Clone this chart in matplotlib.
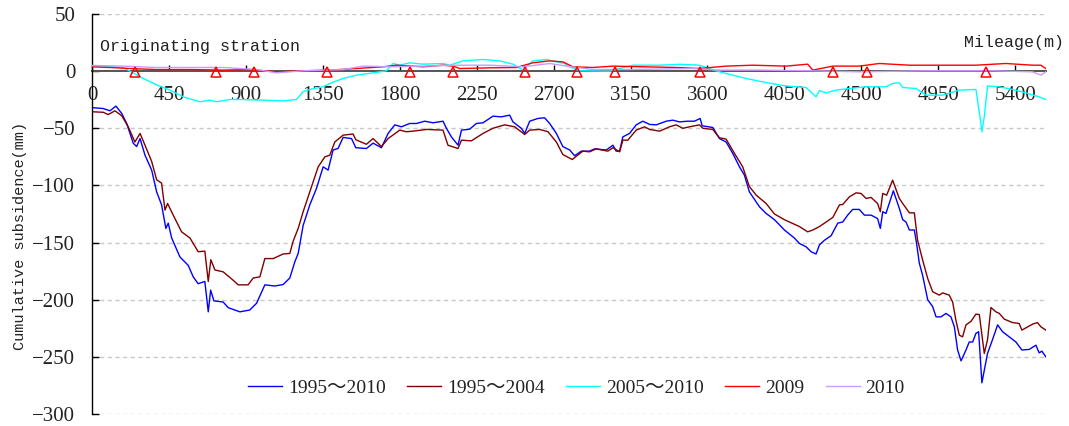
import matplotlib
matplotlib.use("Agg")
import matplotlib.pyplot as plt

plt.rcParams['font.family'] = ['Liberation Serif', 'Noto Sans CJK SC', 'DejaVu Sans']

# ---------------- data (mileage in m, cumulative subsidence in mm) ----------------
mile_9510 = [8, 66, 105, 140, 174, 203, 241, 261, 281, 310,
             349, 378, 407, 432, 446, 466, 514, 563, 592, 621,
             660, 680, 694, 713, 767, 797, 865, 923, 963, 1011,
             1069, 1118, 1157, 1186, 1206, 1235, 1274, 1313, 1352, 1381,
             1410, 1439, 1469, 1518, 1543, 1605, 1644, 1693, 1732, 1771,
             1810, 1858, 1898, 1946, 1995, 2053, 2073, 2102, 2141, 2161,
             2209, 2248, 2287, 2345, 2394, 2443, 2462, 2511, 2531, 2560,
             2608, 2647, 2677, 2716, 2754, 2794, 2823, 2862, 2910, 2940,
             3008, 3047, 3066, 3086, 3105, 3144, 3183, 3222, 3261, 3300,
             3359, 3397, 3436, 3485, 3524, 3557, 3569, 3631, 3670, 3709,
             3748, 3787, 3816, 3845, 3904, 3943, 3992, 4050, 4108, 4138,
             4177, 4206, 4235, 4255, 4284, 4323, 4362, 4391, 4420, 4449,
             4488, 4518, 4557, 4595, 4611, 4625, 4644, 4687, 4722, 4742,
             4761, 4781, 4810, 4823, 4839, 4858, 4888, 4917, 4937, 4966,
             4995, 5024, 5044, 5063, 5083, 5112, 5131, 5151, 5170, 5186,
             5200, 5205, 5219, 5238, 5267, 5297, 5326, 5365, 5404, 5439,
             5482, 5521, 5540, 5556, 5579]
sub_9510 = [-32, -32.7, -34.7, -30.6, -37, -45.8, -63, -66, -59, -73.5,
            -86.6, -105.6, -117, -137.6, -133, -146, -162.5, -170, -180, -186,
            -184, -210.6, -191.6, -201, -202, -207, -210.6, -209, -203, -187,
            -188, -186.7, -181, -167, -159.5, -135, -117, -102.6, -83.7, -86.6,
            -69, -67.7, -58, -59, -67, -67.7, -63, -67, -54.5, -47,
            -48.7, -45.8, -45.8, -43.8, -45.2, -43.8, -50, -57.5, -64.8, -51.6,
            -50.8, -45.8, -45.2, -39.4, -40, -38.5, -44.4, -50, -54.5, -43.8,
            -41.4, -40.8, -45.8, -54.5, -66, -69, -74, -70, -70, -68,
            -69, -64.8, -70, -70, -57.5, -54.5, -47, -43.8, -46.6, -47,
            -43.8, -42.9, -44.4, -43.8, -43.8, -41.4, -47.8, -49.3, -59, -62,
            -72, -83.7, -91, -105.6, -118.7, -124.5, -130, -139, -146, -150.8,
            -153.7, -158, -160, -152, -148, -144, -133, -132, -126, -121,
            -121, -126, -126, -129, -137.6, -123, -124.5, -104.7, -120, -130,
            -132, -139, -139, -150.8, -168, -178.5, -200, -206, -215, -215,
            -212, -215, -223.7, -244, -253.5, -244, -237, -237, -229.5, -228,
            -261.6, -272.7, -261.6, -247, -235, -222, -228, -232.5, -237, -244,
            -243.5, -239.8, -246.5, -245, -250]

mile_9504 = [8, 66, 95, 134, 174, 212, 251, 281, 310, 349,
             378, 407, 427, 442, 485, 524, 573, 621, 660, 680,
             695, 719, 767, 826, 855, 913, 943, 982, 1011, 1060,
             1118, 1157, 1176, 1206, 1235, 1274, 1323, 1362, 1391, 1420,
             1469, 1527, 1543, 1605, 1644, 1693, 1732, 1800, 1839, 1878,
             1956, 2053, 2082, 2141, 2161, 2219, 2287, 2345, 2414, 2472,
             2531, 2560, 2618, 2667, 2716, 2754, 2809, 2871, 2910, 2949,
             3017, 3047, 3086, 3105, 3134, 3183, 3232, 3261, 3320, 3378,
             3417, 3456, 3495, 3553, 3573, 3631, 3670, 3709, 3758, 3806,
             3845, 3885, 3943, 3992, 4050, 4108, 4138, 4186, 4216, 4255,
             4294, 4333, 4372, 4391, 4430, 4469, 4498, 4528, 4557, 4595,
             4611, 4625, 4648, 4683, 4722, 4742, 4781, 4810, 4829, 4858,
             4888, 4917, 4956, 4975, 5014, 5034, 5053, 5073, 5092, 5112,
             5141, 5170, 5190, 5219, 5238, 5258, 5287, 5307, 5336, 5384,
             5423, 5439, 5501, 5530, 5550, 5579]
sub_9504 = [-35.6, -36, -38, -34.7, -39, -48.7, -62, -54.5, -64.8, -79,
            -95, -98, -121.6, -115.8, -129, -140.6, -146, -158, -157.5, -184,
            -165, -174, -175.6, -183, -187, -187, -181, -180, -164, -164,
            -160, -159.5, -149, -137.6, -123, -105.6, -83.7, -75, -73.5, -62,
            -56, -55, -60, -64, -59, -66, -59, -51.6, -53, -52.5,
            -51, -51.6, -64.8, -67.7, -60.4, -61, -54.5, -50, -47, -48.7,
            -55.4, -51.6, -51, -53, -62, -73, -77.3, -70, -70.6, -68,
            -70, -67, -70.6, -60.4, -60.4, -51.6, -48.7, -51, -52.5, -48.7,
            -47, -50, -48.7, -47, -50, -51, -58.3, -59.5, -72, -83.7,
            -101, -108.5, -115.8, -125, -130, -134, -136, -140.6, -139, -136,
            -132, -128, -117, -116.7, -110, -106.5, -107, -111.4, -110.5, -115.8,
            -123, -107, -108.5, -95.4, -111.4, -115.8, -124, -124, -148, -165,
            -181.4, -193, -196, -194, -196, -202, -218, -231, -232.5, -222,
            -219, -212.6, -213, -247, -235, -206.8, -210.6, -212, -217, -220,
            -220.8, -226.6, -221.4, -220, -223.7, -226.6]

mile_0510 = [0, 105, 183, 241, 300, 378, 456, 534, 631, 690,
             729, 807, 865, 1001, 1118, 1196, 1235, 1274, 1352, 1391,
             1469, 1547, 1644, 1722, 1761, 1800, 1858, 1936, 2053, 2092,
             2170, 2287, 2384, 2462, 2521, 2579, 2657, 2716, 2764, 2794,
             2852, 3027, 3164, 3320, 3436, 3553, 3670, 3826, 3943, 4060,
             4177, 4235, 4255, 4294, 4352, 4430, 4528, 4644, 4683, 4722,
             4742, 4820, 4878, 4975, 5073, 5170, 5194, 5205, 5219, 5238,
             5307, 5384, 5462, 5540, 5579]
sub_0510 = [4.4, 4, 3, -1.5, -6.4, -12, -16.6, -22.5, -26.8, -25.4,
            -26.8, -24.8, -24.8, -25.4, -26, -24.8, -18, -16, -13.7, -10.8,
            -6.4, -3.5, -1.5, 0.3, 6.7, 5.2, 7.3, 6.1, 6.7, 5.2,
            9, 10.2, 9, 6.1, 0.9, 9, 10.2, 8.1, 6.7, 3.8,
            0.3, 0, 5.2, 5.2, 6, 5.2, -0.6, -6.4, -10, -13,
            -14.3, -22.5, -17, -19, -16.6, -15.2, -13.7, -13.7, -10.8, -10.2,
            -14.3, -15.2, -21, -21, -16.6, -16, -40, -53, -40, -13,
            -13.7, -16, -19, -22.5, -24.8]

mile_2009 = [0, 105, 222, 378, 573, 767, 923, 1079, 1235, 1391,
             1547, 1703, 1781, 1937, 2053, 2112, 2151, 2326, 2482, 2579,
             2677, 2755, 2813, 2930, 3047, 3222, 3417, 3553, 3709, 3865,
             4060, 4186, 4216, 4333, 4488, 4605, 4781, 4975, 5170, 5346,
             5501, 5550, 5579]
sub_2009 = [3.8, 3.2, 2.3, 1.4, 1.4, 0.9, 1.4, -0.6, 0.3, 0.9,
            2.3, 3.8, 5.2, 3.8, 5.2, 4.4, 2.3, 2.9, 3.2, 7.3,
            9, 8.1, 3.8, 3.2, 4.4, 3.8, 3.2, 2.3, 4.4, 5.2,
            4.4, 6.1, 0.9, 4.4, 4.4, 6.7, 5.2, 5.2, 5.2, 6.7,
            5.2, 5.2, 2.3]

mile_2010 = [0, 181, 378, 767, 963, 1079, 1235, 1469, 1586, 1742,
             1936, 2131, 2326, 2521, 2677, 2794, 2930, 3125, 3514, 3670,
             3904, 4216, 4488, 4878, 5268, 5501, 5550, 5579]
sub_2010 = [5, 4.4, 3.2, 3.2, 1.4, -1.5, 0.3, 1.4, 4.4, 3.8,
            4.4, 5.2, 5.2, 3.8, 6.7, 4, 1.4, 1.4, 2.3, 0.9,
            0.9, 0.3, -0.6, 0.3, 0.3, -0.6, -3.5, -0.6]

mark_mile = [251, 725, 948, 1375, 1858, 2111, 2531, 2836, 3061, 3557, 4336, 4531, 5229]
mark_sub = [-1, -1, -1, -1, -1, -1, -1, -1, -1, -1, -1, -1, -1]

x_ticks = [0, 450, 900, 1350, 1800, 2250, 2700, 3150, 3600, 4050, 4500, 4950, 5400]
y_ticks = [50, 0, -50, -100, -150, -200, -250, -300]
labels = ['1995～2010', '1995～2004', '2005～2010', '2009', '2010']
colors = ['#0000FF', '#800000', '#00FFFF', '#FF0000', '#CC99FF']

# ---------------- figure ----------------
fig = plt.figure(figsize=(10.69, 4.26), dpi=100)
ax = fig.add_axes([92 / 1069, 12 / 426, (1046 - 92) / 1069, 400 / 426])

series = [(mile_9510, sub_9510), (mile_9504, sub_9504), (mile_0510, sub_0510),
          (mile_2009, sub_2009), (mile_2010, sub_2010)]
for (xs, ys), lab, col in zip(series, labels, colors):
    ax.plot(xs, ys, color=col, lw=1.0, label=lab, zorder=3)

ax.plot(mark_mile, mark_sub, linestyle='none', marker='^', markersize=7,
        markerfacecolor='none', markeredgecolor='#FF0000', markeredgewidth=1.1, zorder=4)

ax.set_xlim(0, 5580)
ax.set_ylim(-300, 50)
ax.set_xticks(x_ticks)
ax.set_yticks(y_ticks)
ax.set_xticklabels([str(v) for v in x_ticks])
ax.set_yticklabels(['50', '0', '−50', '−100', '−150', '−200', '−250', '−300'])

for v in y_ticks:
    if v != 0:
        ax.axhline(v, color='#c8c8c8', lw=1.0, ls=(0, (3, 2.5)), zorder=1)

ax.spines['top'].set_visible(False)
ax.spines['right'].set_visible(False)
ax.spines['bottom'].set_position(('data', 0))
ax.spines['bottom'].set_color('#555555')
ax.spines['bottom'].set_linewidth(1.4)
ax.spines['left'].set_color('black')
ax.spines['left'].set_linewidth(1.0)
ax.spines['bottom'].set_zorder(2)

ax.tick_params(axis='x', direction='in', length=4, width=1, pad=11, labelsize=15,
               colors='black', labelcolor='#222222')
ax.tick_params(axis='y', direction='in', length=5, width=1, pad=12, labelsize=15,
               labelcolor='#222222')

ax.text(47, 22, 'Originating stration', family='Liberation Mono', fontsize=12,
        va='center', ha='left', color='#222222')
fig.text(1064 / 1069, 1 - 42 / 426, 'Mileage(m)', family='Liberation Mono', fontsize=12,
         va='center', ha='right', color='#222222')
fig.text(20 / 1069, 1 - 236 / 426, 'Cumulative subsidence(mm)', family='Liberation Mono',
         fontsize=11, rotation=90, va='center', ha='center', color='#222222')

leg = ax.legend(loc='center', bbox_to_anchor=(0.508, 0.065), ncol=5, frameon=False,
                handlelength=1.75, handletextpad=0.3, columnspacing=1.1,
                prop={'family': ['Liberation Serif', 'Noto Sans CJK SC'], 'size': 14})
for t in leg.get_texts():
    t.set_color('#222222')

fig.savefig('out.png', dpi=100)
